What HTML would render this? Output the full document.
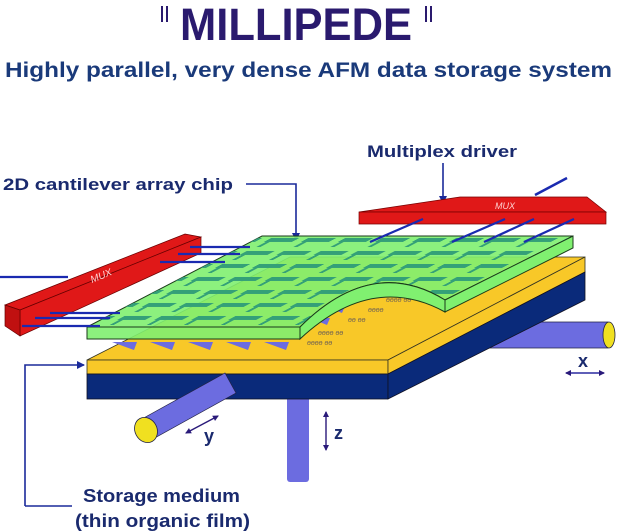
<!DOCTYPE html>
<html><head><meta charset="utf-8"><style>
html,body{margin:0;padding:0;background:#fff;}
svg{display:block;font-family:"Liberation Sans",sans-serif;font-weight:bold;}
</style></head><body>
<svg width="617" height="531" viewBox="0 0 617 531" xmlns="http://www.w3.org/2000/svg">
<defs>
<pattern id="cant" width="37" height="13" patternUnits="userSpaceOnUse" patternTransform="translate(87,236) skewX(-62)">
<path d="M3 2 L31 2 L31 6 L9 6 L9 11 L5 11 L5 6 L3 6 Z" fill="#34a078"/>
</pattern>
<marker id="ah" markerWidth="8" markerHeight="8" refX="7" refY="4" orient="auto" markerUnits="userSpaceOnUse"><path d="M0,0 L8,4 L0,8 Z" fill="#1a2a9a"/></marker>
<marker id="ahs" markerWidth="6" markerHeight="6" refX="5" refY="3" orient="auto-start-reverse" markerUnits="userSpaceOnUse"><path d="M0,0 L6,3 L0,6 Z" fill="#2a1a7a"/></marker>
</defs>

<!-- Titles -->
<text x="180" y="40" font-size="45" fill="#2a1a6e" textLength="232" lengthAdjust="spacingAndGlyphs">MILLIPEDE</text>
<rect x="161" y="6" width="2" height="16" fill="#2a1a6e"/><rect x="166" y="6" width="2" height="16" fill="#2a1a6e"/>
<rect x="425" y="6" width="2" height="16" fill="#2a1a6e"/><rect x="430" y="6" width="2" height="16" fill="#2a1a6e"/>
<text x="5" y="77" font-size="21" fill="#1a3a7a" textLength="607" lengthAdjust="spacingAndGlyphs">Highly parallel, very dense AFM  data storage system</text>

<!-- labels -->
<text x="367" y="157" font-size="17" fill="#1a2a6e" textLength="150" lengthAdjust="spacingAndGlyphs">Multiplex driver</text>
<line x1="443" y1="163" x2="443" y2="203" stroke="#1a2a9a" stroke-width="1.6" marker-end="url(#ah)"/>
<text x="3" y="190" font-size="17" fill="#1a2a6e" textLength="230" lengthAdjust="spacingAndGlyphs">2D cantilever array chip</text>
<polyline points="246,184 296,184 296,240" fill="none" stroke="#1a2a9a" stroke-width="1.6" marker-end="url(#ah)"/>

<!-- right MUX -->
<polygon points="359,212 460,197 587,197 606,212" fill="#e01818" stroke="#700" stroke-width="0.7"/>
<polygon points="359,212 606,212 606,224 359,224" fill="#e01818" stroke="#700" stroke-width="0.7"/>
<text x="495" y="209" font-size="9" fill="#ffd0d0" font-style="italic" font-weight="normal">MUX</text>
<line x1="535" y1="195" x2="567" y2="178" stroke="#1a2ab0" stroke-width="2.5"/>

<!-- rods behind -->
<rect x="287" y="395" width="22" height="87" fill="#6c6ce0" rx="3"/>
<polygon points="483,322 608,322 608,348 483,348" fill="#6c6ce0" stroke="#224" stroke-width="0.7"/>
<ellipse cx="483" cy="335" rx="5" ry="13" fill="#6c6ce0"/>
<ellipse cx="609" cy="335" rx="6" ry="13" fill="#f0e020" stroke="#224" stroke-width="0.8"/>

<!-- storage medium -->
<polygon points="87,360 388,360 585,257 290,257" fill="#f8c828" stroke="#332" stroke-width="0.8"/>
<rect x="87" y="360" width="301" height="14" fill="#f8c828" stroke="#332" stroke-width="0.8"/>
<rect x="87" y="374" width="301" height="25" fill="#0a2a7a" stroke="#112" stroke-width="0.8"/>
<polygon points="388,360 585,257 585,272 388,374" fill="#f8c828" stroke="#332" stroke-width="0.8"/>
<polygon points="388,374 585,272 585,300 388,399" fill="#0a2a7a" stroke="#112" stroke-width="0.8"/>
<!-- cantilever tips under chip -->
<g fill="#6c6ce0">
<path d="M112 342 l25 0 l-3 8z M150 342 l25 0 l-3 8z M188 342 l25 0 l-3 8z M226 342 l25 0 l-3 8z M264 342 l25 0 l-3 8z"/>
<path d="M310 318 l20 0 l-3 7z M325 306 l20 0 l-3 7z M345 294 l20 0 l-3 7z"/>
</g>
<g fill="#7a6a50" font-size="7" font-style="italic" font-weight="normal">
<text x="307" y="345">ɵɵɵɵ ɵɵ</text><text x="318" y="335">ɵɵɵɵ ɵɵ</text><text x="348" y="322">ɵɵ ɵɵ</text><text x="368" y="312">ɵɵɵɵ</text><text x="386" y="302">ɵɵɵɵ ɵɵ</text>
</g>

<!-- left rod front -->
<polygon points="140,420 225,373 236,393 151,440" fill="#6c6ce0" stroke="#224" stroke-width="0.7"/>
<ellipse cx="146" cy="430" rx="11" ry="13" fill="#f0e020" stroke="#224" stroke-width="0.8" transform="rotate(-28 146 430)"/>

<!-- green chip -->
<path d="M87,327 L300,327 Q372,255 445,300 L573,236 L262,236 Z" fill="#80f070" fill-opacity="0.9" stroke="#1a3a1a" stroke-width="1"/>
<path d="M87,327 L300,327 Q372,255 445,300 L573,236 L262,236 Z" fill="url(#cant)"/>
<rect x="87" y="327" width="213" height="12" fill="#80f070" fill-opacity="0.9" stroke="#1a3a1a" stroke-width="1"/>
<path d="M300,327 Q372,255 445,300 L445,312 Q372,272 300,339 Z" fill="#80f070" stroke="#1a3a1a" stroke-width="1"/>
<polygon points="445,300 573,236 573,248 445,312" fill="#80f070" stroke="#1a3a1a" stroke-width="1"/>

<!-- left MUX -->
<polygon points="5,305 185,234 201,237 20,310" fill="#e01818" stroke="#600" stroke-width="0.7"/>
<polygon points="20,310 201,237 201,253 20,336" fill="#e01818" stroke="#600" stroke-width="0.7"/>
<polygon points="5,305 20,310 20,336 5,326" fill="#c01010" stroke="#600" stroke-width="0.7"/>
<text x="0" y="0" font-size="10" fill="#ffd0d0" font-style="italic" font-weight="normal" transform="translate(92,283) rotate(-22)">MUX</text>

<!-- wires -->
<g stroke="#1a2ab0" stroke-width="2.2">
<line x1="0" y1="277" x2="68" y2="277"/>
<line x1="190" y1="247" x2="250" y2="247"/>
<line x1="178" y1="254" x2="240" y2="254"/>
<line x1="160" y1="262" x2="225" y2="262"/>
<line x1="50" y1="313" x2="120" y2="313"/>
<line x1="35" y1="318" x2="110" y2="318"/>
<line x1="22" y1="326" x2="100" y2="326"/>
<line x1="423" y1="219" x2="370" y2="242"/>
<line x1="505" y1="219" x2="452" y2="242"/>
<line x1="534" y1="219" x2="484" y2="242"/>
<line x1="574" y1="219" x2="524" y2="242"/>
</g>

<!-- storage medium label -->
<polyline points="25,506 72,506" fill="none" stroke="#1a2a9a" stroke-width="1.6"/>
<polyline points="25,506 25,365 84,365" fill="none" stroke="#1a2a9a" stroke-width="1.6" marker-end="url(#ah)"/>
<text x="83" y="502" font-size="18" fill="#1a2a6e" textLength="157" lengthAdjust="spacingAndGlyphs">Storage medium</text>
<text x="75" y="527" font-size="18" fill="#1a2a6e" textLength="175" lengthAdjust="spacingAndGlyphs">(thin organic film)</text>

<!-- motion arrows -->
<line x1="566" y1="373" x2="604" y2="373" stroke="#2a2aa0" stroke-width="1.4" marker-start="url(#ahs)" marker-end="url(#ahs)"/>
<text x="578" y="367" font-size="18" fill="#1a2a6e">x</text>
<line x1="186" y1="433" x2="218" y2="416" stroke="#2a1a7a" stroke-width="1.4" marker-start="url(#ahs)" marker-end="url(#ahs)"/>
<text x="204" y="442" font-size="18" fill="#1a2a6e">y</text>
<line x1="326" y1="412" x2="326" y2="450" stroke="#2a1a7a" stroke-width="1.4" marker-start="url(#ahs)" marker-end="url(#ahs)"/>
<text x="334" y="439" font-size="18" fill="#1a2a6e">z</text>
</svg>
</body></html>
